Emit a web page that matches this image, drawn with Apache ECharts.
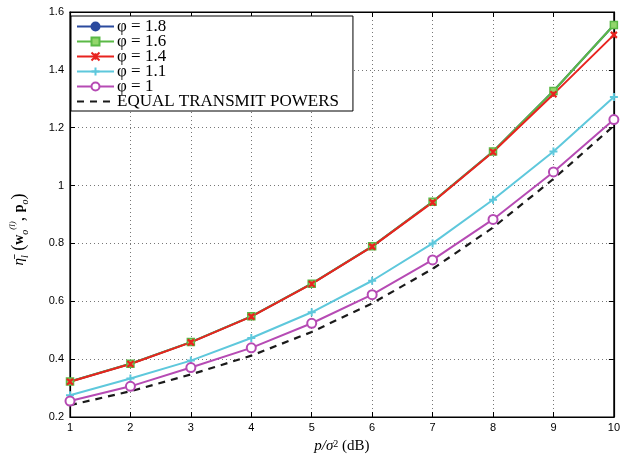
<!DOCTYPE html>
<html>
<head>
<meta charset="utf-8">
<script src="https://cdn.jsdelivr.net/npm/echarts@6/dist/echarts.min.js"></script>
<style>
html,body{margin:0;padding:0;background:#fff;}
#chart{width:623px;height:459px;}
</style>
</head>
<body>
<div id="chart"></div>
<script>
// 横轴 p/sigma^2 (dB)
var snr = [1, 2, 3, 4, 5, 6, 7, 8, 9, 10];
var phi18 = [0.323, 0.384, 0.459, 0.548, 0.661, 0.790, 0.944, 1.118, 1.327, 1.555];
var phi16 = [0.323, 0.384, 0.459, 0.548, 0.661, 0.790, 0.944, 1.118, 1.327, 1.555];
var phi14 = [0.322, 0.383, 0.458, 0.547, 0.660, 0.789, 0.942, 1.116, 1.316, 1.521];
var phi11 = [0.275, 0.333, 0.395, 0.473, 0.562, 0.671, 0.800, 0.951, 1.118, 1.306];
var phi10 = [0.255, 0.306, 0.371, 0.439, 0.524, 0.623, 0.743, 0.883, 1.047, 1.228];
var equalPow = [0.241, 0.289, 0.347, 0.412, 0.494, 0.593, 0.712, 0.855, 1.023, 1.207];
var legendNames = ['φ = 1.8', 'φ = 1.6', 'φ = 1.4', 'φ = 1.1', 'φ = 1', 'EQUAL TRANSMIT POWERS'];

function pairs(ys) {
    var out = [];
    for (var i = 0; i < snr.length; i++) out.push([snr[i], ys[i]]);
    return out;
}

var chart = echarts.init(document.getElementById('chart'));
var serif = '"Liberation Serif","DejaVu Serif",serif';
var sans = '"Liberation Sans",Arial,sans-serif';

var xPath = 'path://M0,0L10,10M10,0L0,10M5,1L5,9';
var plusPath = 'path://M5,0L5,10M0,5L10,5';

var tickAxis = {
    axisLine: { show: true, lineStyle: { color: '#000', width: 1.2 } },
    axisTick: { inside: true, length: 5, lineStyle: { color: '#000' } }
};
var dotted = { show: true, lineStyle: { color: '#777', type: [1, 3], width: 1 } };

var legendData = legendNames.map(function (n, i) {
    // 最后一项只画虚线，不画点
    if (i === legendNames.length - 1) return { name: n, itemStyle: { opacity: 0 } };
    return { name: n };
});

var option = {
    backgroundColor: '#fff',
    animation: false,
    grid: { left: 66, right: 6, top: 12, bottom: 37, show: true, borderColor: '#000', borderWidth: 1.2 },
    legend: {
        orient: 'vertical',
        left: 71,
        top: 16,
        itemGap: -2,
        itemWidth: 37,
        itemHeight: 10,
        padding: [2, 14, 1, 5],
        backgroundColor: '#fff',
        borderColor: '#000',
        borderWidth: 1,
        textStyle: { fontFamily: serif, fontSize: 17, color: '#000', padding: [0, 0, 0, -2] },
        data: legendData
    },
    xAxis: [{
        type: 'value', min: 1, max: 10, interval: 1,
        name: '{i|p/σ}{s|2}{n| (dB)}', nameLocation: 'middle', nameGap: 22,
        nameTextStyle: {
            fontFamily: serif, fontSize: 15, color: '#000',
            rich: {
                i: { fontFamily: serif, fontSize: 15, fontStyle: 'italic' },
                s: { fontFamily: serif, fontSize: 10, verticalAlign: 'top', lineHeight: 14 },
                n: { fontFamily: serif, fontSize: 15 }
            }
        },
        axisLine: tickAxis.axisLine, axisTick: tickAxis.axisTick,
        axisLabel: { fontFamily: sans, fontSize: 11, color: '#000', margin: 5 },
        splitLine: dotted
    }, {
        type: 'value', min: 1, max: 10, interval: 1, position: 'top',
        axisLine: tickAxis.axisLine, axisTick: tickAxis.axisTick,
        axisLabel: { show: false }, splitLine: { show: false }
    }],
    yAxis: [{
        type: 'value', min: 0.2, max: 1.6, interval: 0.2,
        name: '{e|η̄}{l|l}{n| (}{b|w}{o|o}{sp|(l)}{n|, }{b|p}{o|o}{n|)}', nameLocation: 'middle', nameGap: 40,
        nameTextStyle: {
            fontFamily: serif, fontSize: 15, color: '#000', padding: [0, 30, 0, 0],
            rich: {
                e: { fontFamily: serif, fontSize: 15, fontStyle: 'italic' },
                l: { fontFamily: serif, fontSize: 10, fontStyle: 'italic', verticalAlign: 'bottom', lineHeight: 22 },
                n: { fontFamily: serif, fontSize: 18 },
                b: { fontFamily: serif, fontSize: 14, fontWeight: 'bold' },
                o: { fontFamily: serif, fontSize: 10, fontStyle: 'italic', verticalAlign: 'bottom', lineHeight: 22 },
                sp: { fontFamily: serif, fontSize: 9, fontStyle: 'italic', verticalAlign: 'top', lineHeight: 22 }
            }
        },
        axisLine: tickAxis.axisLine, axisTick: tickAxis.axisTick,
        axisLabel: { fontFamily: sans, fontSize: 11, color: '#000', margin: 6,
            formatter: function (v) { return String(+v.toFixed(1)); } },
        splitLine: dotted
    }, {
        type: 'value', min: 0.2, max: 1.6, interval: 0.2, position: 'right',
        axisLine: tickAxis.axisLine, axisTick: tickAxis.axisTick,
        axisLabel: { show: false }, splitLine: { show: false }
    }],
    series: [
        {
            name: legendNames[0], type: 'line', data: pairs(phi18),
            symbol: 'circle', symbolSize: 6,
            lineStyle: { color: '#2b4a9e', width: 2 },
            itemStyle: { color: '#2b4a9e', borderColor: '#2b4a9e', borderWidth: 1 }
        },
        {
            name: legendNames[1], type: 'line', data: pairs(phi16),
            symbol: 'rect', symbolSize: 7,
            lineStyle: { color: '#5bb946', width: 2 },
            itemStyle: { color: '#93d66c', borderColor: '#5bb946', borderWidth: 1.5 }
        },
        {
            name: legendNames[2], type: 'line', data: pairs(phi14),
            symbol: xPath, symbolSize: 6,
            lineStyle: { color: '#e8231f', width: 2 },
            itemStyle: { color: 'rgba(0,0,0,0)', borderColor: '#e8231f', borderWidth: 2.2 }
        },
        {
            name: legendNames[3], type: 'line', data: pairs(phi11),
            symbol: plusPath, symbolSize: 8,
            lineStyle: { color: '#5ec8dc', width: 2 },
            itemStyle: { color: 'rgba(0,0,0,0)', borderColor: '#5ec8dc', borderWidth: 2 }
        },
        {
            name: legendNames[4], type: 'line', data: pairs(phi10),
            symbol: 'circle', symbolSize: 9,
            lineStyle: { color: '#b64bb4', width: 2 },
            itemStyle: { color: '#ffffff', borderColor: '#b64bb4', borderWidth: 2 }
        },
        {
            name: legendNames[5], type: 'line', data: pairs(equalPow),
            symbol: 'none',
            lineStyle: { color: '#1a1a1a', width: 2.2, type: [7, 6] },
            itemStyle: { color: '#1a1a1a' }
        }
    ]
};
chart.setOption(option);
</script>
</body>
</html>
